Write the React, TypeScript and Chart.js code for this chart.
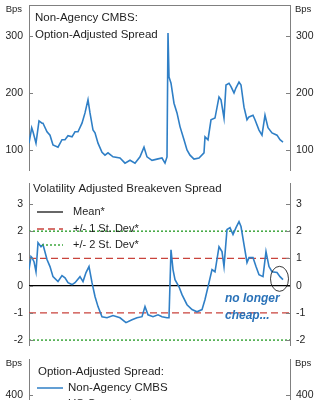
import React, { useEffect, useRef } from 'react';
import { Chart, registerables } from 'chart.js';

Chart.register(...registerables);

const FONT = '"Liberation Sans", Arial, Helvetica, sans-serif';
const AXIS = '#808080';
const TEXT = '#1e1e1e';
const BLUE = '#2f7fc6';
const RED = '#c9433c';
const GREEN = '#3ea63e';

// ---- data ----
const periodMax = 261;

const oasPeriods = [0, 2.7, 4, 7, 10, 13, 14, 18, 21, 24, 29, 33, 36, 39, 43, 46, 49, 53, 56, 59, 61, 64, 66, 69, 73, 76, 79, 84, 91, 96, 101, 106, 111, 115, 118, 123, 128, 133, 136, 138, 139, 140, 142, 145, 148, 151, 155, 158, 161, 165, 170, 175, 176, 179, 182, 186, 190, 192, 195, 197, 200, 202, 205, 207, 210, 212, 215, 218, 220, 224, 226, 230, 233, 236, 239, 243, 248, 251, 254];
const oasValues = [112, 139, 132, 112, 151, 147, 147, 132, 126, 109, 105, 118, 118, 125, 123, 132, 132, 147, 165, 188, 165, 135, 130, 112, 96, 91, 95, 88, 86, 77, 82, 77, 88, 105, 88, 82, 84, 86, 77, 88, 305, 228, 217, 182, 165, 141, 118, 100, 91, 84, 86, 95, 123, 118, 153, 156, 193, 188, 156, 214, 217, 211, 200, 209, 219, 214, 175, 153, 158, 161, 153, 135, 126, 161, 139, 130, 126, 118, 114];

const vabPeriods = [0, 2, 3, 5, 7, 9, 12, 14, 18, 21, 24, 29, 33, 36, 39, 43, 46, 51, 54, 57, 60, 63, 66, 69, 73, 78, 84, 91, 97, 103, 108, 113, 116, 119, 124, 129, 133, 138, 140, 142, 144, 146, 150, 153, 158, 163, 168, 173, 176, 180, 183, 186, 190, 193, 195, 198, 201, 204, 207, 210, 212, 215, 218, 220, 224, 227, 230, 234, 237, 240, 243, 248, 251, 254];
const vabValues = [0.59, 1.07, 1.03, 0.88, 0.51, 1.58, 1.43, 1.51, 0.96, 0.7, 0.33, 0.15, 0.37, 0.29, 0.11, 0.04, 0.11, 0.33, 0.15, 0.48, 0.7, 0.11, -0.4, -0.77, -1.14, -1.18, -1.1, -1.18, -1.36, -1.25, -1.18, -1.14, -0.77, -1.07, -1.14, -1.07, -1.14, -1.18, -1.18, 1.32, 0.59, 0.22, -0.04, -0.33, -0.7, -0.88, -0.96, -0.88, -0.51, 0.11, 0.59, 0.51, 1.43, 1.25, 0.7, 2.06, 2.13, 1.88, 2.13, 2.35, 2.17, 1.51, 0.85, 1.03, 1.03, 0.7, 0.4, 0.33, 1.25, 0.7, 0.51, 0.48, 0.33, 0.22];

const oasTicks = [100, 200, 300];
const vabTicks = [-2, -1, 0, 1, 2, 3];
const bottomTicks = [0, 100, 200, 300, 400];

const meanLevel = 0;
const sd1Levels = [1, -1];
const sd2Levels = [2, -2];

const topTitle = ['Non-Agency CMBS:', 'Option-Adjusted Spread'];
const midTitle = 'Volatility Adjusted Breakeven Spread';
const midLegend = ['Mean*', '+/- 1 St. Dev*', '+/- 2 St. Dev*'];
const annotationText = ['no longer', 'cheap...'];
const bottomTitle = 'Option-Adjusted Spread:';
const bottomLegend = ['Non-Agency CMBS', 'US Corporates'];
const unitLabel = 'Bps';

// ---- helpers ----
function yAxes(min: number, max: number, tickVals: number[]) {
  const base = (position: string, width: number) => ({
    type: 'linear',
    position,
    min,
    max,
    afterBuildTicks: (s: any) => {
      s.ticks = tickVals.map((v) => ({ value: v }));
    },
    afterFit: (s: any) => {
      s.width = width;
    },
    grid: { display: false, drawTicks: false },
    border: { display: true, color: AXIS, width: 1 },
    ticks: { color: TEXT, padding: 6, font: { family: FONT, size: 10.5 } },
  });
  return { y: base('left', 29), y2: base('right', 34) };
}

function xAxis() {
  return { x: { type: 'linear', min: 0, max: periodMax, display: false } };
}

function pts(px: number[], vals: number[]) {
  return px.map((p, i) => ({ x: p, y: vals[i] }));
}

function levelLine(v: number) {
  return [
    { x: 0, y: v },
    { x: periodMax, y: v },
  ];
}

function drawAxisDecor(chart: any, unit: boolean, topBorder: boolean) {
  const ctx = chart.ctx;
  const { left, right, top } = chart.chartArea;
  const yL = chart.scales.y;
  ctx.save();
  ctx.strokeStyle = AXIS;
  ctx.lineWidth = 1;
  yL.ticks.forEach((t: any) => {
    const py = Math.round(yL.getPixelForValue(t.value)) + 0.5;
    ctx.beginPath();
    ctx.moveTo(left, py);
    ctx.lineTo(left + 4, py);
    ctx.moveTo(right, py);
    ctx.lineTo(right - 4, py);
    ctx.stroke();
  });
  if (topBorder) {
    const ty = Math.round(top) + 0.5;
    ctx.beginPath();
    ctx.moveTo(left, ty);
    ctx.lineTo(right, ty);
    ctx.stroke();
  }
  if (unit) {
    ctx.fillStyle = TEXT;
    ctx.font = `9.5px ${FONT}`;
    ctx.textBaseline = 'middle';
    ctx.textAlign = 'right';
    ctx.fillText(unitLabel, left - 7, top + 4);
    ctx.textAlign = 'left';
    ctx.fillText(unitLabel, right + 5, top + 4);
  }
  ctx.restore();
}

const topDecor = {
  id: 'topDecor',
  afterDraw(chart: any) {
    drawAxisDecor(chart, true, true);
    const ctx = chart.ctx;
    const { left, top } = chart.chartArea;
    ctx.save();
    ctx.fillStyle = TEXT;
    ctx.font = `11.5px ${FONT}`;
    ctx.textBaseline = 'middle';
    ctx.textAlign = 'left';
    ctx.fillText(topTitle[0], left + 6, top + 13);
    ctx.fillText(topTitle[1], left + 6, top + 30);
    ctx.restore();
  },
};

const midDecor = {
  id: 'midDecor',
  afterDraw(chart: any) {
    drawAxisDecor(chart, false, false);
    const ctx = chart.ctx;
    const { left, top } = chart.chartArea;
    ctx.save();
    ctx.fillStyle = TEXT;
    ctx.font = `11.5px ${FONT}`;
    ctx.textBaseline = 'middle';
    ctx.textAlign = 'left';
    ctx.fillText(midTitle, left + 4, top + 6);
    ctx.font = `11px ${FONT}`;
    const rows = [top + 29, top + 46, top + 62];
    const styles = [
      { c: '#000', d: [] as number[], w: 1.2, x0: left + 8 },
      { c: RED, d: [7, 4], w: 1.3, x0: left + 8 },
      { c: GREEN, d: [2, 2], w: 1.5, x0: left + 13 },
    ];
    rows.forEach((ry, i) => {
      const s = styles[i];
      ctx.strokeStyle = s.c;
      ctx.lineWidth = s.w;
      ctx.setLineDash(s.d);
      ctx.beginPath();
      ctx.moveTo(s.x0, ry);
      ctx.lineTo(left + 34, ry);
      ctx.stroke();
      ctx.setLineDash([]);
      ctx.fillStyle = TEXT;
      ctx.fillText(midLegend[i], left + 44, ry);
    });
    // annotation ellipse around latest reading
    const xs = chart.scales.x;
    const ys = chart.scales.y;
    const lastP = vabPeriods[vabPeriods.length - 1];
    const cx = xs.getPixelForValue(lastP - 3.5);
    const cy = ys.getPixelForValue(0.25);
    ctx.strokeStyle = '#222';
    ctx.lineWidth = 0.9;
    ctx.beginPath();
    ctx.ellipse(cx, cy, 9, 12.5, 0, 0, Math.PI * 2);
    ctx.stroke();
    ctx.fillStyle = '#2a72b8';
    ctx.font = `italic bold 12px ${FONT}`;
    ctx.fillText(annotationText[0], left + 196, top + 116);
    ctx.fillText(annotationText[1], left + 196, top + 133);
    ctx.restore();
  },
};

const bottomDecor = {
  id: 'bottomDecor',
  afterDraw(chart: any) {
    drawAxisDecor(chart, true, false);
    const ctx = chart.ctx;
    const { left, top } = chart.chartArea;
    ctx.save();
    ctx.fillStyle = TEXT;
    ctx.font = `11.5px ${FONT}`;
    ctx.textBaseline = 'middle';
    ctx.textAlign = 'left';
    ctx.fillText(bottomTitle, left + 9, top + 13);
    ctx.font = `11.5px ${FONT}`;
    const rows = [top + 29, top + 45];
    const colors = [BLUE, '#e0a030'];
    rows.forEach((ry, i) => {
      ctx.strokeStyle = colors[i];
      ctx.lineWidth = 1.5;
      ctx.beginPath();
      ctx.moveTo(left + 8, ry);
      ctx.lineTo(left + 34, ry);
      ctx.stroke();
      ctx.fillStyle = TEXT;
      ctx.fillText(bottomLegend[i], left + 39, ry);
    });
    ctx.restore();
  },
};

const commonPlugins = {
  legend: { display: false },
  tooltip: { enabled: false },
  title: { display: false },
};

function seriesDs(data: any[]) {
  return {
    data,
    borderColor: BLUE,
    borderWidth: 1.6,
    pointRadius: 0,
    tension: 0,
    fill: false,
    yAxisID: 'y',
  };
}

export default function App() {
  const topRef = useRef<HTMLCanvasElement>(null);
  const midRef = useRef<HTMLCanvasElement>(null);
  const botRef = useRef<HTMLCanvasElement>(null);

  useEffect(() => {
    const charts: Chart[] = [];
    if (topRef.current) {
      charts.push(
        new Chart(topRef.current, {
          type: 'line',
          data: { datasets: [seriesDs(pts(oasPeriods, oasValues))] as any },
          options: {
            responsive: false,
            animation: false,
            devicePixelRatio: 1,
            layout: { padding: { top: 25, bottom: 15, left: 0, right: 0 } },
            scales: { ...xAxis(), ...yAxes(65, 354, oasTicks) } as any,
            plugins: commonPlugins as any,
          },
          plugins: [topDecor],
        })
      );
    }
    if (midRef.current) {
      const lvl = (v: number, color: string, dash: number[], w: number) => ({
        data: levelLine(v),
        borderColor: color,
        borderDash: dash,
        borderWidth: w,
        pointRadius: 0,
        fill: false,
        yAxisID: 'y',
      });
      charts.push(
        new Chart(midRef.current, {
          type: 'line',
          data: {
            datasets: [
              seriesDs(pts(vabPeriods, vabValues)),
              lvl(meanLevel, '#000', [], 1.2),
              ...sd1Levels.map((v) => lvl(v, RED, [7, 4], 1.3)),
              ...sd2Levels.map((v) => lvl(v, GREEN, [2, 2], 1.5)),
            ] as any,
          },
          options: {
            responsive: false,
            animation: false,
            devicePixelRatio: 1,
            layout: { padding: { top: 23, bottom: 15, left: 0, right: 0 } },
            scales: { ...xAxis(), ...yAxes(-2.18, 3.77, vabTicks) } as any,
            plugins: commonPlugins as any,
          },
          plugins: [midDecor],
        })
      );
    }
    if (botRef.current) {
      charts.push(
        new Chart(botRef.current, {
          type: 'line',
          data: { datasets: [seriesDs(pts(oasPeriods, oasValues))] as any },
          options: {
            responsive: false,
            animation: false,
            devicePixelRatio: 1,
            layout: { padding: { top: 29, bottom: 15, left: 0, right: 0 } },
            scales: { ...xAxis(), ...yAxes(0, 490, bottomTicks) } as any,
            plugins: commonPlugins as any,
          },
          plugins: [bottomDecor],
        })
      );
    }
    return () => charts.forEach((c) => c.destroy());
  }, []);

  const cv = (top: number, h: number): React.CSSProperties => ({
    position: 'absolute',
    left: 0,
    top,
    width: 324,
    height: h,
    display: 'block',
  });

  return (
    <div
      style={{
        position: 'fixed',
        left: 0,
        top: 0,
        width: 324,
        height: 400,
        overflow: 'hidden',
        background: '#fff',
      }}
    >
      <canvas ref={topRef} width={324} height={205} style={cv(-20, 205)} />
      <canvas ref={midRef} width={324} height={200} style={cv(160, 200)} />
      <canvas ref={botRef} width={324} height={240} style={cv(330, 240)} />
    </div>
  );
}
